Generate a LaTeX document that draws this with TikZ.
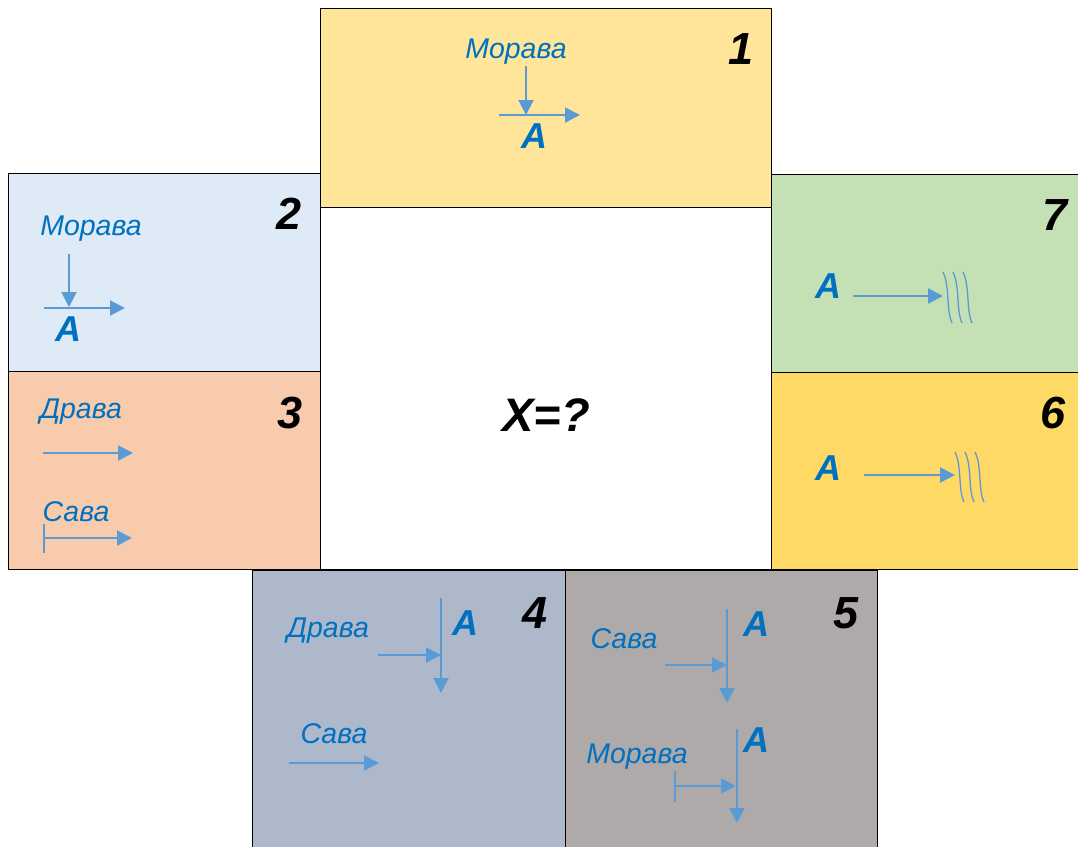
\documentclass[tikz,border=0pt]{standalone}
\usepackage{fontspec}
\setmainfont{Liberation Sans}
\usepackage{xcolor}
\usetikzlibrary{arrows.meta}
\definecolor{panelOne}{RGB}{255,229,153}
\definecolor{panelTwo}{RGB}{222,235,247}
\definecolor{panelThree}{RGB}{248,203,173}
\definecolor{panelFour}{RGB}{173,185,202}
\definecolor{panelFive}{RGB}{174,170,170}
\definecolor{panelSix}{RGB}{255,217,102}
\definecolor{panelSeven}{RGB}{197,224,180}
\definecolor{riverBlue}{RGB}{91,155,213}
\definecolor{labelBlue}{RGB}{0,112,192}

\tikzset{
  panel/.style={draw=black, line width=0.8pt},
  num/.style={anchor=base, inner sep=0pt, font=\fontsize{45}{45}\selectfont\bfseries\itshape},
  river/.style={anchor=base, inner sep=0pt, text=labelBlue, font=\fontsize{28.5}{28.5}\selectfont\itshape},
  pnt/.style={anchor=base, inner sep=0pt, text=labelBlue, font=\fontsize{36}{36}\selectfont\bfseries\itshape},
  flow/.style={riverBlue, line width=2.2pt, -{Triangle[length=15pt,width=15pt]}},
  barflow/.style={riverBlue, line width=2.2pt, {Bar[width=29pt]}-{Triangle[length=15pt,width=15pt]}},
  wave/.style={riverBlue, line width=1.3pt},
}

\begin{document}
\begin{tikzpicture}[x=1pt, y=-1pt]
\useasboundingbox (0,0) rectangle (1078,846);
% panels
\draw[panel, fill=panelOne] (320,8) rectangle (771,207);
\draw[panel, fill=white] (320,207) rectangle (771,569);
\draw[panel, fill=panelTwo] (8,173) rectangle (320,371);
\draw[panel, fill=panelThree] (8,371) rectangle (320,569);
\draw[panel, fill=panelSeven] (771,174) rectangle (1080,372);
\draw[panel, fill=panelSix] (771,372) rectangle (1080,569);
\draw[panel, fill=panelFour] (252,570) rectangle (565,850);
\draw[panel, fill=panelFive] (565,570) rectangle (877,850);

% numbers
\node[num] (n1) at (741,64) {1};
\node[num] (n2) at (289,229) {2};
\node[num] (n3) at (290,428) {3};
\node[num] (n4) at (535,628) {4};
\node[num] (n5) at (846,628) {5};
\node[num] (n6) at (1053,428) {6};
\node[num] (n7) at (1055,230) {7};
\node[num, font=\fontsize{47}{47}\selectfont\bfseries\itshape] (x) at (546,431) {X=?};

% panel 1
\node[river] (mor1) at (516,58) {Морава};
\node[pnt] (a1) at (534,148) {A};
\coordinate (m1a) at (526,66);
\coordinate (m1b) at (526,115);
\coordinate (d1a) at (499,115);
\coordinate (d1b) at (580,115);
\draw[flow] (m1a) -- (m1b);
\draw[flow] (d1a) -- (d1b);

% panel 2
\node[river] (mor2) at (91,235) {Морава};
\node[pnt] (a2) at (68,341) {A};
\coordinate (m2a) at (69,254);
\coordinate (m2b) at (69,307);
\coordinate (d2a) at (44,308);
\coordinate (d2b) at (125,308);
\draw[flow] (m2a) -- (m2b);
\draw[flow] (d2a) -- (d2b);

% panel 3
\node[river] (dra3) at (81,418) {Драва};
\node[river] (sav3) at (76,521) {Сава};
\coordinate (d3a) at (43,453);
\coordinate (d3b) at (133,453);
\coordinate (s3a) at (43,538);
\coordinate (s3b) at (132,538);
\draw[flow] (d3a) -- (d3b);
\draw[barflow] (s3a) -- (s3b);

% panel 4
\node[river] (dra4) at (328,637) {Драва};
\node[pnt] (a4) at (465,635) {A};
\node[river] (sav4) at (334,743) {Сава};
\coordinate (v4a) at (441,598);
\coordinate (v4b) at (441,693);
\coordinate (d4a) at (378,655);
\coordinate (d4b) at (441,655);
\coordinate (s4a) at (289,763);
\coordinate (s4b) at (379,763);
\draw[flow] (v4a) -- (v4b);
\draw[flow] (d4a) -- (d4b);
\draw[flow] (s4a) -- (s4b);

% panel 5
\node[river] (sav5) at (624,648) {Сава};
\node[pnt] (a5) at (756,636) {A};
\node[river] (mor5) at (637,763) {Морава};
\node[pnt] (a5b) at (756,752) {A};
\coordinate (v5a) at (727,609);
\coordinate (v5b) at (727,703);
\coordinate (s5a) at (665,665);
\coordinate (s5b) at (727,665);
\coordinate (w5a) at (737,729);
\coordinate (w5b) at (737,823);
\coordinate (m5a) at (674,786);
\coordinate (m5b) at (736,786);
\draw[flow] (v5a) -- (v5b);
\draw[flow] (s5a) -- (s5b);
\draw[flow] (w5a) -- (w5b);
\draw[barflow, {Bar[width=31pt]}-{Triangle[length=15pt,width=15pt]}] (m5a) -- (m5b);

% panel 7
\node[pnt] (a7) at (828,298) {A};
\coordinate (f7a) at (853,296);
\coordinate (f7b) at (943,296);
\draw[flow] (f7a) -- (f7b);
\foreach \i in {0,10,20}
  \draw[wave, shift={(\i,0)}] (943,272) .. controls (950,286) and (946,310) .. (952,323);

% panel 6
\node[pnt] (a6) at (828,480) {A};
\coordinate (f6a) at (864,475);
\coordinate (f6b) at (955,475);
\draw[flow] (f6a) -- (f6b);
\foreach \i in {0,10,20}
  \draw[wave, shift={(\i,0)}] (955,452) .. controls (962,466) and (958,490) .. (964,502);
\end{tikzpicture}
\end{document}
